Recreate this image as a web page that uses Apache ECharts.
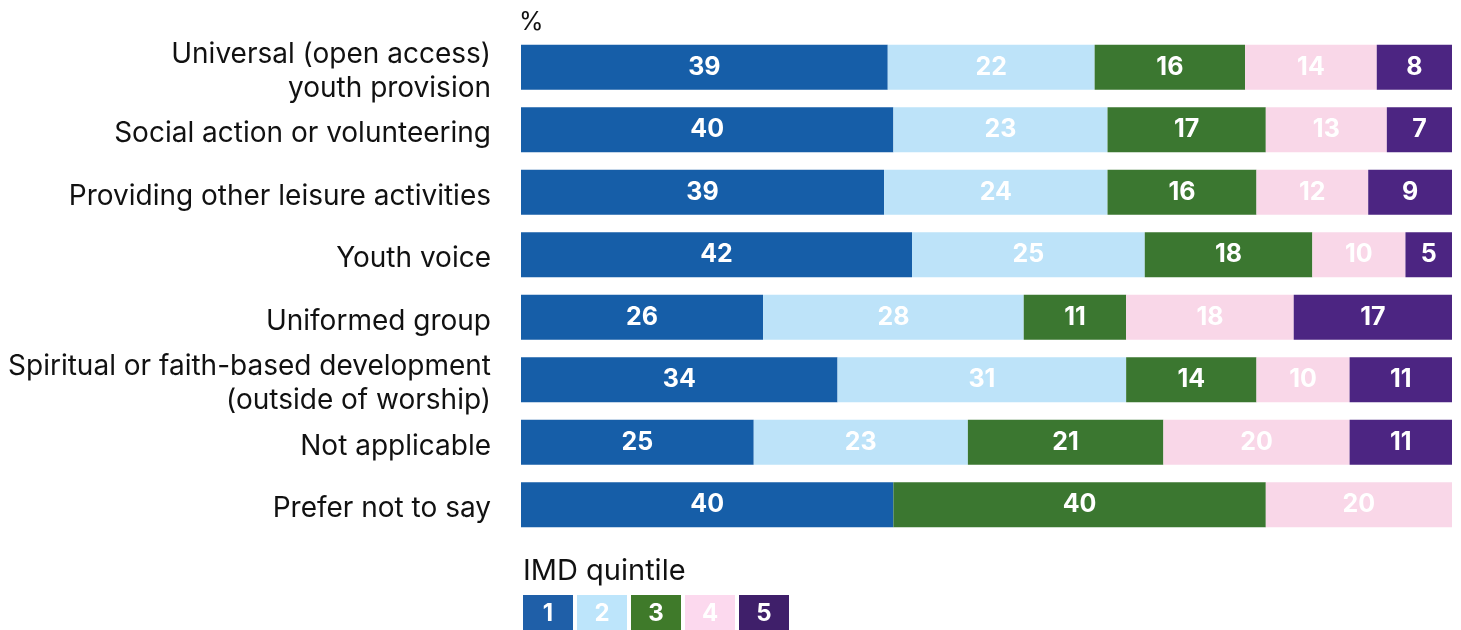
<!DOCTYPE html>
<html>
<head>
<meta charset="utf-8">
<script src="https://cdn.jsdelivr.net/npm/echarts@6/dist/echarts.min.js"></script>
<style>
  html, body { margin: 0; padding: 0; background: #fff; }
  #chart { width: 1461px; height: 630px; }
</style>
</head>
<body>
<div id="chart"></div>
<script>
// Activity types (top to bottom)
const categories = [
  'Universal (open access)\nyouth provision',
  'Social action or volunteering',
  'Providing other leisure activities',
  'Youth voice',
  'Uniformed group',
  'Spiritual or faith-based development\n(outside of worship)',
  'Not applicable',
  'Prefer not to say'
];

// Share of each IMD quintile, %
const quintileNames = ['1', '2', '3', '4', '5'];
const q1 = [39, 40, 39, 42, 26, 34, 25, 40];
const q2 = [22, 23, 24, 25, 28, 31, 23, 0];
const q3 = [16, 17, 16, 18, 11, 14, 21, 40];
const q4 = [14, 13, 12, 10, 18, 10, 20, 20];
const q5 = [8, 7, 9, 5, 17, 11, 11, 0];

const quintileValues = [q1, q2, q3, q4, q5];
const colors = ['#165ea8', '#bde3f9', '#3b7730', '#f9d7e8', '#4c2582'];
const legendColors = ['#1f5fa8', '#bde5fb', '#3f7a2a', '#fcd9ee', '#3f1f6a'];

const FONT = 'Inter, "Noto Sans", sans-serif';

// each bar is shown as a 100% stack, so scale every row by its total
const rowTotals = categories.map((_, r) => quintileValues.reduce((s, arr) => s + arr[r], 0));

const series = quintileValues.map((vals, qi) => ({
  name: quintileNames[qi],
  type: 'bar',
  stack: 'total',
  barWidth: 45,
  itemStyle: { color: colors[qi] },
  emphasis: { disabled: true },
  label: {
    show: true,
    position: 'inside',
    color: '#ffffff',
    fontFamily: FONT,
    fontWeight: 'bold',
    fontSize: 25,
    formatter: p => (p.data.raw ? String(p.data.raw) : '')
  },
  data: vals.map((v, r) => ({ value: v / rowTotals[r] * 100, raw: v }))
}));

// legend: title plus a row of coloured numbered boxes
const legendGraphics = [{
  type: 'text',
  left: 523,
  top: 557,
  style: { text: 'IMD quintile', fill: '#111', font: '29px ' + FONT }
}];
quintileNames.forEach((name, i) => {
  legendGraphics.push({
    type: 'group',
    left: 523 + i * 54,
    top: 595,
    children: [
      { type: 'rect', shape: { x: 0, y: 0, width: 50, height: 36 }, style: { fill: legendColors[i] } },
      { type: 'text', x: 25, y: 19, style: {
          text: name, fill: '#fff', font: 'bold 24px ' + FONT,
          align: 'center', verticalAlign: 'middle'
        } }
    ]
  });
});

const chart = echarts.init(document.getElementById('chart'), null, { renderer: 'canvas' });
chart.setOption({
  animation: false,
  backgroundColor: '#ffffff',
  title: {
    text: '%',
    left: 514,
    top: 5,
    textStyle: { fontFamily: FONT, fontWeight: 'normal', fontSize: 25, color: '#111' }
  },
  grid: { left: 521, right: 9, top: 36, height: 500, containLabel: false },
  xAxis: {
    type: 'value',
    min: 0,
    max: 100,
    show: false
  },
  yAxis: {
    type: 'category',
    inverse: true,
    data: categories,
    axisLine: { show: false },
    axisTick: { show: false },
    axisLabel: {
      interval: 0,
      margin: 30,
      color: '#111',
      fontFamily: FONT,
      fontSize: 28,
      lineHeight: 34,
      align: 'right',
      // a thin spacer line above each label nudges the text slightly down
      formatter: v => '{gap| }\n' + v,
      rich: { gap: { fontSize: 1, lineHeight: 8 } }
    }
  },
  series: series,
  graphic: legendGraphics
});
</script>
</body>
</html>
